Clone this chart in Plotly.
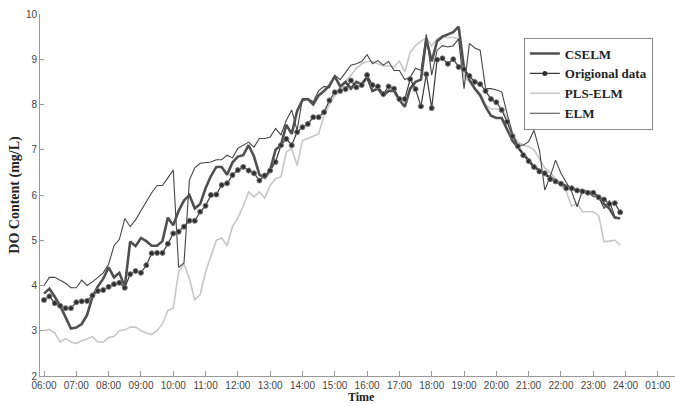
import plotly.graph_objects as go

# time grid: 06:00 .. 23:50 every 10 minutes (hours since midnight)
hours = [6 + i / 6 for i in range(108)]

original = [
    3.68, 3.76, 3.61, 3.55, 3.50, 3.50,
    3.63, 3.65, 3.66, 3.78, 3.88, 3.90,
    3.97, 4.03, 4.06, 3.95, 4.25, 4.32,
    4.28, 4.45, 4.71, 4.72, 4.72, 4.92,
    5.15, 5.19, 5.30, 5.43, 5.43, 5.63,
    5.76, 6.00, 6.01, 6.22, 6.26, 6.44,
    6.55, 6.62, 6.54, 6.48, 6.32, 6.43,
    6.54, 6.73, 7.10, 7.24, 7.10, 7.39,
    7.50, 7.57, 7.72, 7.72, 7.83, 8.09,
    8.27, 8.30, 8.34, 8.53, 8.38, 8.43,
    8.65, 8.43, 8.40, 8.23, 8.40, 8.35,
    8.12, 8.12, 8.56, 8.34, 7.96, 8.67,
    7.92, 8.99, 9.02, 8.90, 9.00, 8.83,
    8.78, 8.63, 8.50, 8.45, 8.30, 8.12,
    8.05, 7.88, 7.62, 7.30, 7.08, 6.88,
    6.75, 6.62, 6.52, 6.48, 6.35, 6.30,
    6.25, 6.15, 6.15, 6.10, 6.08, 6.05,
    6.05, 5.95, 5.90, 5.80, 5.82, 5.62,
]

cselm = [
    3.82, 3.93, 3.75, 3.55, 3.30, 3.05,
    3.07, 3.15, 3.35, 3.75, 3.98, 4.15,
    4.40, 4.18, 4.28, 3.97, 4.97, 4.87,
    5.05, 4.98, 4.88, 4.88, 4.98, 5.50,
    5.33, 5.65, 5.88, 6.00, 5.70, 5.80,
    6.15, 6.42, 6.62, 6.62, 6.45, 6.72,
    6.85, 6.88, 7.10, 6.85, 6.45, 6.38,
    6.55, 7.00, 7.10, 7.55, 7.35, 7.85,
    8.10, 8.12, 8.00, 8.20, 8.30, 8.42,
    8.62, 8.40, 8.50, 8.35, 8.50, 8.45,
    8.60, 8.30, 8.35, 8.20, 8.30, 8.30,
    8.10, 7.95, 8.35, 8.50, 8.55, 9.45,
    8.95, 9.40, 9.50, 9.55, 9.60, 9.72,
    8.80, 8.55, 8.35, 8.20, 7.95, 7.75,
    7.70, 7.70, 7.45, 7.20, 7.05, 6.90,
    6.75, 6.62, 6.55, 6.45, 6.40, 6.30,
    6.25, 6.20, 6.15, 6.10, 6.10, 6.05,
    6.05, 5.95, 5.80, 5.70, 5.50, 5.48,
]

pls_elm = [
    3.00, 3.03, 2.95, 2.75, 2.83, 2.75,
    2.72, 2.78, 2.82, 2.87, 2.75, 2.75,
    2.85, 2.87, 3.00, 3.02, 3.08, 3.08,
    3.00, 2.95, 2.92, 3.00, 3.15, 3.45,
    3.50, 4.30, 4.48, 4.15, 3.68, 3.80,
    4.30, 4.65, 5.00, 5.05, 4.88, 5.30,
    5.50, 5.75, 6.07, 5.96, 6.07, 5.93,
    6.21, 6.36, 6.40, 6.95, 7.03, 6.65,
    7.20, 7.25, 7.30, 7.35, 7.76, 8.00,
    8.20, 8.30, 8.50, 8.65, 8.80, 8.90,
    8.95, 8.95, 8.90, 8.85, 8.85, 8.83,
    8.96, 8.72, 9.15, 9.30, 9.40, 9.47,
    9.30, 9.45, 9.50, 9.48, 9.48, 9.45,
    8.63, 8.50, 8.35, 8.25, 8.00, 7.90,
    7.90, 7.90, 7.70, 7.33, 7.18, 7.10,
    7.07, 7.00, 6.80, 6.60, 6.50, 6.35,
    6.22, 6.07, 5.75, 5.82, 5.63, 5.63,
    5.63, 5.55, 4.97, 4.98, 5.00, 4.90,
]

elm = [
    4.00, 4.18, 4.18, 4.12, 4.05, 3.95,
    3.95, 4.12, 4.00, 4.08, 4.18, 4.28,
    4.47, 4.88, 5.02, 5.48, 5.30, 5.45,
    5.65, 5.85, 6.05, 6.21, 6.21, 6.38,
    6.55, 4.40, 4.50, 6.33, 6.60, 6.70,
    6.72, 6.73, 6.78, 6.78, 6.88, 6.82,
    7.03, 7.10, 7.17, 7.06, 7.25, 7.25,
    7.28, 7.47, 7.33, 7.65, 7.88, 7.43,
    8.13, 8.13, 8.06, 8.30, 8.40, 8.37,
    8.65, 8.55, 8.72, 8.87, 8.90, 8.95,
    9.10, 8.90, 8.97, 8.87, 8.95, 8.75,
    8.75, 8.55, 8.60, 8.80, 8.75, 9.55,
    8.65, 9.20, 9.30, 9.27, 9.30, 9.45,
    8.35, 9.35, 9.25, 9.20, 8.35, 8.35,
    8.32, 8.28, 7.80, 7.36, 7.10, 7.10,
    7.18, 7.43, 6.99, 6.11, 6.40, 6.77,
    6.48, 6.26, 6.07, 5.74, 6.10, 6.07,
    5.96, 5.96, 5.70, 5.88, 5.52, 5.48,
]

tick_vals = list(range(6, 26))
tick_text = ["06:00", "07:00", "08:00", "09:00", "10:00", "11:00", "12:00",
             "13:00", "14:00", "15:00", "16:00", "17:00", "18:00", "19:00",
             "20:00", "21:00", "22:00", "23:00", "24:00", "01:00"]
y_ticks = [2, 3, 4, 5, 6, 7, 8, 9, 10]

C_CSELM = "#505050"
C_ORIG = "#3a3a3a"
C_PLS = "#c6c6c6"
C_ELM = "#454545"

fig = go.Figure()
fig.add_trace(go.Scatter(x=hours, y=pls_elm, mode="lines", name="PLS-ELM",
                         line=dict(color=C_PLS, width=1.6), showlegend=False))
fig.add_trace(go.Scatter(x=hours, y=elm, mode="lines", name="ELM",
                         line=dict(color=C_ELM, width=1.1), showlegend=False))
fig.add_trace(go.Scatter(x=hours, y=cselm, mode="lines", name="CSELM",
                         line=dict(color=C_CSELM, width=2.6), showlegend=False))
fig.add_trace(go.Scatter(x=hours, y=original, mode="lines+markers", name="Origional data",
                         line=dict(color=C_ORIG, width=1.2),
                         marker=dict(symbol="circle", size=5, color="#2e2e2e",
                                     line=dict(color="#777777", width=1)),
                         showlegend=False))

# legend entries in reference order
fig.add_trace(go.Scatter(x=[None], y=[None], mode="lines", name="CSELM",
                         line=dict(color=C_CSELM, width=2.6)))
fig.add_trace(go.Scatter(x=[None], y=[None], mode="lines+markers", name="Origional data",
                         line=dict(color=C_ORIG, width=1.2),
                         marker=dict(symbol="circle", size=5, color="#2e2e2e")))
fig.add_trace(go.Scatter(x=[None], y=[None], mode="lines", name="PLS-ELM",
                         line=dict(color=C_PLS, width=1.6)))
fig.add_trace(go.Scatter(x=[None], y=[None], mode="lines", name="ELM",
                         line=dict(color=C_ELM, width=1.1)))

fig.update_layout(
    width=675, height=406,
    margin=dict(l=40, r=0, t=14, b=30),
    paper_bgcolor="white", plot_bgcolor="white",
    showlegend=True,
    legend=dict(x=0.762, y=0.935, xanchor="left", yanchor="top",
                bgcolor="white", bordercolor="#8a8a8a", borderwidth=1,
                font=dict(family="Liberation Serif", size=13, color="#222", weight="bold"),
                tracegroupgap=0, itemwidth=30),
    font=dict(family="Liberation Sans", size=10, color="#444"),
    annotations=[dict(text="<b>Time</b>", xref="paper", yref="paper",
                      x=0.507, y=-30 / 362, xanchor="center", yanchor="bottom",
                      showarrow=False,
                      font=dict(family="Liberation Serif", size=12, color="#222"))],
)
fig.update_xaxes(
    range=[5.876, 25.53], tickmode="array", tickvals=tick_vals, ticktext=tick_text,
    showgrid=False, zeroline=False, showline=True, linecolor="#999", linewidth=1,
    ticks="inside", ticklen=5, tickcolor="#999",
    tickfont=dict(family="Liberation Sans", size=10, color="#444"),
)
fig.update_yaxes(
    range=[2, 10], tickmode="array", tickvals=y_ticks,
    showgrid=False, zeroline=False, showline=True, linecolor="#999", linewidth=1,
    ticks="inside", ticklen=4, tickcolor="#999",
    tickfont=dict(family="Liberation Sans", size=10, color="#444"),
    title=dict(text="<b>DO Content (mg/L)</b>",
               font=dict(family="Liberation Serif", size=14, color="#222"), standoff=2),
)

fig.write_html("out.html", config={"displayModeBar": False},
               post_script="document.body.style.margin='0';")
